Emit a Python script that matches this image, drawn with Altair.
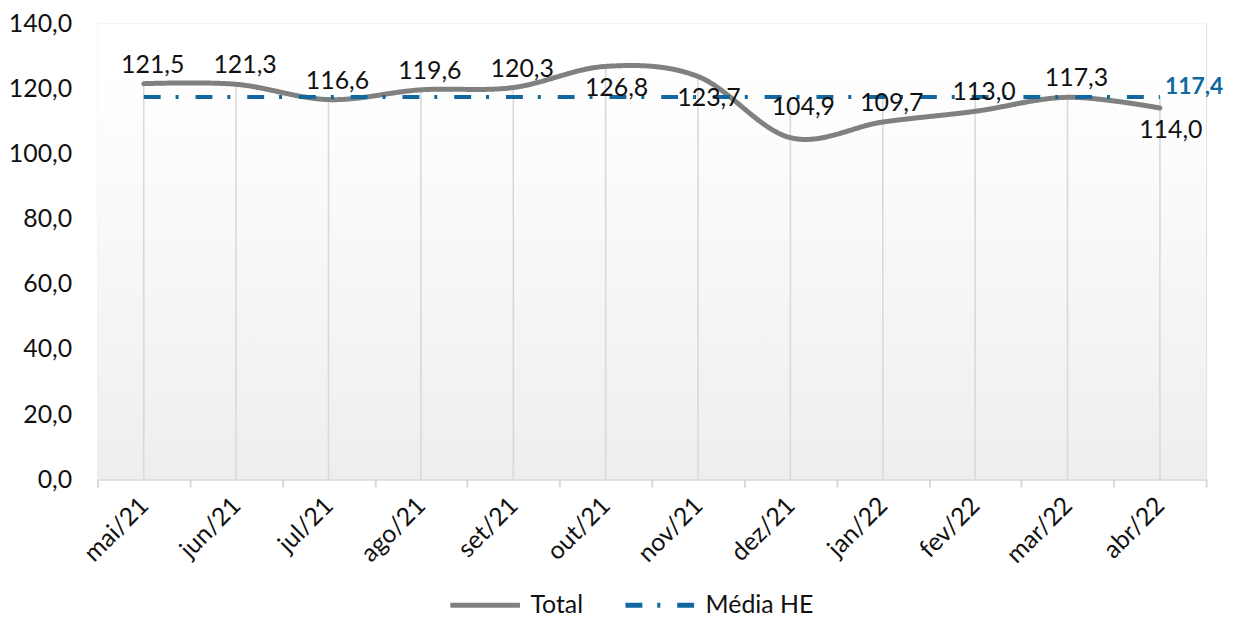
import altair as alt
import pandas as pd

# ---------------- data ----------------
months = ["mai/21", "jun/21", "jul/21", "ago/21", "set/21", "out/21",
          "nov/21", "dez/21", "jan/22", "fev/22", "mar/22", "abr/22"]
total = [121.5, 121.3, 116.6, 119.6, 120.3, 126.8,
         123.7, 104.9, 109.7, 113.0, 117.3, 114.0]
media_he = 117.4
label_side = ["above", "above", "above", "above", "above", "below",
              "below", "high", "above", "above", "above", "below"]
series_names = ["Total", "Média HE"]
y_ticks = [0, 20, 40, 60, 80, 100, 120, 140]

# ---------------- style ----------------
W, H = 1114, 458
FONT = "Lato"
FS = 25
GRAY = "#808080"
BLUE = "#10689E"
LIGHT = "#D9D9D9"
TXT = "#111111"

df = pd.DataFrame({
    "month": months,
    "Total": total,
    "Média HE": [media_he] * len(months),
    "side": label_side,
})
df["top"] = df[["Total", "Média HE"]].max(axis=1)

x_axis = alt.Axis(
    labelAngle=-45, labelAlign="right", labelBaseline="middle",
    labelFont=FONT, labelFontSize=FS, labelColor=TXT, labelPadding=14,
    tickBand="extent", tickSize=8, tickColor=LIGHT, tickWidth=2,
    domainColor=LIGHT, domainWidth=2, grid=False, title=None,
)
x_scale = alt.Scale(type="band", domain=months, paddingInner=0, paddingOuter=0)


def xenc():
    return alt.X("month:N", sort=months, scale=x_scale, axis=x_axis, bandPosition=0.5)


y_scale = alt.Scale(domain=[0, 140], nice=False, zero=True)
y_axis = alt.Axis(
    values=y_ticks, labelFont=FONT, labelFontSize=FS, labelColor=TXT,
    labelPadding=26, ticks=False, domain=False, grid=False, title=None,
    labelExpr="replace(format(datum.value, '.1f'), '.', ',')",
)

color_scale = alt.Scale(domain=series_names, range=[GRAY, BLUE])
dash_scale = alt.Scale(domain=series_names, range=[[1, 0], [17, 15, 3, 17]])
legend = alt.Legend(
    title=None, orient="none", direction="horizontal",
    legendX=352, legendY=547,
    symbolType="stroke", symbolSize=4900, symbolStrokeWidth=5,
    labelFont=FONT, labelFontSize=FS, labelColor=TXT,
    labelOffset=8, columnPadding=32,
)

base = alt.Chart(df)

# background gradient of plot area
bg = alt.Chart(alt.Data(values=[{}])).mark_rect(
    color=alt.Gradient(
        gradient="linear",
        stops=[alt.GradientStop(color="#FFFFFF", offset=0),
               alt.GradientStop(color="#FFFFFF", offset=0.1),
               alt.GradientStop(color="#EEEEEE", offset=1)],
        x1=0, x2=0, y1=0, y2=1,
    )
).encode(x=alt.value(0), x2=alt.value(W), y=alt.value(0), y2=alt.value(H))

# drop lines
drops = base.mark_rule(color=LIGHT, strokeWidth=1.6).encode(
    x=xenc(),
    y=alt.Y("top:Q", scale=y_scale, axis=y_axis),
    y2=alt.datum(0),
)

folded = base.transform_fold(series_names, as_=["series", "value"])

color_enc = alt.Color("series:N", scale=color_scale, legend=legend)
dash_enc = alt.StrokeDash("series:N", scale=dash_scale, legend=legend)

line_total = folded.transform_filter(alt.datum.series == "Total").mark_line(
    strokeWidth=5, interpolate="cardinal", tension=0, strokeCap="round"
).encode(
    x=xenc(), y=alt.Y("value:Q", scale=y_scale, axis=y_axis),
    color=color_enc, strokeDash=dash_enc,
)

line_media = folded.transform_filter(alt.datum.series == "Média HE").mark_line(
    strokeWidth=4, strokeCap="butt"
).encode(
    x=xenc(), y=alt.Y("value:Q", scale=y_scale, axis=y_axis),
    color=color_enc, strokeDash=dash_enc,
)

lab = base.transform_calculate(
    lbl="replace(format(datum.Total, '.1f'), '.', ',')"
)


def label_layer(side, dx, dy):
    return lab.transform_filter(alt.datum.side == side).mark_text(
        font=FONT, fontSize=FS, color=TXT, dx=dx, dy=dy, baseline="middle"
    ).encode(x=xenc(), y=alt.Y("Total:Q", scale=y_scale, axis=y_axis), text="lbl:N")


labels_above = label_layer("above", 9, -19)
labels_high = label_layer("high", 13, -31)
labels_below = label_layer("below", 11, 22)

media_label = base.transform_filter(alt.datum.month == months[-1]).transform_calculate(
    lbl="replace(format(datum['Média HE'], '.1f'), '.', ',')"
).mark_text(
    font=FONT, fontSize=23, fontWeight="bold", color=BLUE, align="left",
    baseline="middle", dx=5, dy=-10
).encode(x=xenc(), y=alt.Y("Média HE:Q", scale=y_scale, axis=y_axis), text="lbl:N")

chart = alt.layer(
    bg, drops, line_total, line_media, labels_above, labels_high, labels_below, media_label
).properties(
    width=W, height=H,
    autosize=alt.AutoSizeParams(type="none"),
    padding={"left": 90, "top": 14, "right": 21, "bottom": 138},
).configure_view(stroke=None).configure(background="white")

chart.save("out.html", embed_options={"renderer": "svg", "actions": False})
